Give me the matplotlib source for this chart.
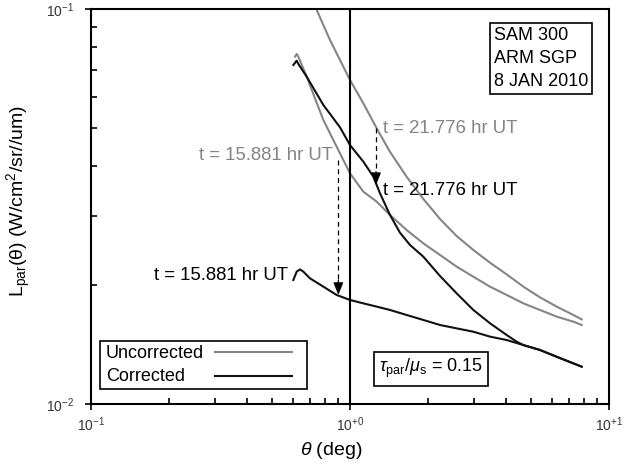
import matplotlib
matplotlib.use("Agg")
import matplotlib.pyplot as plt
from matplotlib.ticker import LogLocator, NullFormatter, FixedLocator
from matplotlib.patches import Rectangle

plt.rcParams['font.family'] = ['Liberation Sans', 'DejaVu Sans']
plt.rcParams['mathtext.fontset'] = 'custom'
plt.rcParams['mathtext.rm'] = 'Liberation Sans'
plt.rcParams['mathtext.it'] = 'Liberation Sans:italic'
plt.rcParams['mathtext.bf'] = 'Liberation Sans:bold'

# ---- data ----
# Uncorrected, t = 21.776 hr UT
unc_late_x = [0.70, 0.744, 0.8373, 1.000, 1.1259, 1.2677, 1.4269, 1.6548, 1.9196, 2.2259,
              2.5809, 2.9941, 3.4714, 4.0270, 4.6700, 5.4151, 6.2806, 7.2845, 7.8450]
unc_late_y = [0.109, 0.0994, 0.0834, 0.0661, 0.0577, 0.0499, 0.0435, 0.0376, 0.03304, 0.02940,
              0.02662, 0.02454, 0.02279, 0.02129, 0.01982, 0.01862, 0.01764, 0.01680, 0.01638]
# Uncorrected, t = 15.881 hr UT
unc_early_x = [0.6133, 0.6224, 0.6317, 0.6803, 0.7890, 0.9150, 1.000, 1.1259, 1.2677, 1.4269, 1.6548,
               1.9196, 2.2259, 2.5809, 2.9941, 3.4714, 4.0270, 4.6700, 5.4151, 6.2806, 7.2845, 7.8450]
unc_early_y = [0.07574, 0.07694, 0.07574, 0.06741, 0.05236, 0.04310, 0.03837, 0.03448, 0.03253, 0.03010, 0.02757,
               0.02551, 0.02384, 0.02227, 0.02100, 0.01982, 0.01888, 0.01798, 0.01730, 0.01664, 0.01616, 0.01585]
# Corrected, t = 21.776 hr UT
cor_late_x = [0.6042, 0.6224, 0.6317, 0.6803, 0.7890, 0.9150, 1.000, 1.1259, 1.2307, 1.3058, 1.4269, 1.5597,
              1.7048, 1.9196, 2.2259, 2.5809, 2.9941, 3.4714, 4.0270, 4.4004, 4.6700, 5.4151, 6.2806, 7.8450]
cor_late_y = [0.07216, 0.07400, 0.07258, 0.06741, 0.05715, 0.05017, 0.04524, 0.04107, 0.03763, 0.03415, 0.03010, 0.02714,
              0.02527, 0.02360, 0.02109, 0.01906, 0.01730, 0.01601, 0.01495, 0.01438, 0.01410, 0.01370, 0.01317, 0.01243]
# Corrected, t = 15.881 hr UT
cor_early_x = [0.6042, 0.6224, 0.6410, 0.6603, 0.7008, 0.7890, 0.8881, 1.000, 1.1259, 1.2677, 1.4269,
               1.6548, 1.9196, 2.2259, 2.5809, 2.9941, 3.4714, 4.0270, 4.6700, 5.4151, 6.2806, 7.8450]
cor_early_y = [0.02060, 0.02163, 0.02192, 0.02163, 0.02080, 0.01982, 0.01888, 0.01834, 0.01798, 0.01764, 0.01730,
               0.01680, 0.01632, 0.01585, 0.01554, 0.01524, 0.01481, 0.01452, 0.01410, 0.01370, 0.01317, 0.01243]

arrow_late_x = 1.26
arrow_late_y = [0.0499, 0.03875, 0.03583]   # top, head base, tip
arrow_early_x = 0.9015
arrow_early_y = [0.04146, 0.0206, 0.01888]

legend_labels = ['Uncorrected', 'Corrected']

gray = '#858585'
dark = '#111111'

fig = plt.figure(figsize=(6.24, 4.71), dpi=100)
ax = fig.add_axes([91/624, 1-404/471, 518/624, 395/471])
ax.set_xscale('log')
ax.set_yscale('log')
ax.set_xlim(0.1, 10)
ax.set_ylim(0.01, 0.1)

ax.plot(unc_late_x, unc_late_y, color=gray, lw=1.5)
ax.plot(unc_early_x, unc_early_y, color=gray, lw=1.5)
ax.plot(cor_late_x, cor_late_y, color=dark, lw=1.5)
ax.plot(cor_early_x, cor_early_y, color=dark, lw=1.5)

ax.axvline(1.0, color='black', lw=1.5)

# dashed arrows
for xa, ya in [(arrow_late_x, arrow_late_y), (arrow_early_x, arrow_early_y)]:
    ax.plot([xa, xa], [ya[0], ya[1]], color='black', lw=0.9, ls=(0, (4, 3)))
    ax.annotate('', xy=(xa, ya[2]), xytext=(xa, ya[1]),
                arrowprops=dict(arrowstyle='-|>,head_length=0.75,head_width=0.3',
                                color='black', lw=0.9, shrinkA=0, shrinkB=0))

fs = 13.4
ax.text(1.34, 0.0497, 't = 21.776 hr UT', color=gray, fontsize=fs, ha='left', va='center')
ax.text(1.34, 0.0348, 't = 21.776 hr UT', color='black', fontsize=fs, ha='left', va='center')
ax.text(0.859, 0.0425, 't = 15.881 hr UT', color=gray, fontsize=fs, ha='right', va='center')
ax.text(0.5745, 0.0212, 't = 15.881 hr UT', color='black', fontsize=fs, ha='right', va='center')

# info box
ax.text((494-91)/518, (404-27)/395, 'SAM 300\nARM SGP\n8 JAN 2010', transform=ax.transAxes,
        fontsize=13, ha='left', va='top', linespacing=1.45,
        bbox=dict(boxstyle='square,pad=0.22', fc='white', ec='black', lw=1.2))

# tau box
ax.text((379-91)/518, (404-368.7)/395, r'$\tau_{\rm par}/\mu_{\rm s}$ = 0.15', transform=ax.transAxes,
        fontsize=13, ha='left', va='center',
        bbox=dict(boxstyle='square,pad=0.3', fc='white', ec='black', lw=1.2))

# legend (text left, line sample right)
ax.add_patch(Rectangle(((100-91)/518, (404-389)/395), (307-100)/518, 48/395, transform=ax.transAxes,
                       fc='white', ec='black', lw=1.2, zorder=5))
for lab, ty, ly, col in [(legend_labels[0], 354, 351.7, gray), (legend_labels[1], 376.7, 375.7, dark)]:
    ax.text((105.7-91)/518, (404-ty)/395, lab, transform=ax.transAxes, fontsize=13,
            ha='left', va='center', zorder=6)
    ax.plot([(215-91)/518, (292-91)/518], [(404-ly)/395]*2, transform=ax.transAxes,
            color=col, lw=1.5, zorder=6)

# ticks
ax.xaxis.set_major_locator(FixedLocator([0.1, 1, 10]))
ax.yaxis.set_major_locator(FixedLocator([0.01, 0.1]))
ax.xaxis.set_minor_locator(LogLocator(base=10, subs=range(2, 10)))
ax.yaxis.set_minor_locator(LogLocator(base=10, subs=range(2, 10)))
ax.xaxis.set_minor_formatter(NullFormatter())
ax.yaxis.set_minor_formatter(NullFormatter())
ax.set_xticks([0.1, 1, 10])
ax.set_xticklabels([r'10$^{-1}$', r'10$^{+0}$', r'10$^{+1}$'])
ax.set_yticks([0.01, 0.1])
ax.set_yticklabels([r'10$^{-2}$', r'10$^{-1}$'])
ax.tick_params(which='major', direction='inout', length=8, width=1.2, labelsize=10, labelcolor='#333333', pad=4)
ax.tick_params(which='minor', direction='in', length=4, width=1.2)
ax.tick_params(axis='y', which='major', pad=8)
for s in ax.spines.values():
    s.set_linewidth(1.5)

ax.set_xlabel(r'$\theta$ (deg)', fontsize=14)
ax.xaxis.set_label_coords((331-91)/518, (404-440)/395)
ax.xaxis.label.set_va('top')
ax.set_ylabel(r'L$_{\rm par}$(θ) (W/cm$^2$/sr//um)', fontsize=14)
ax.yaxis.set_label_coords((33-91)/518, (404-200.8)/395)

fig.savefig('out.png', dpi=100)
